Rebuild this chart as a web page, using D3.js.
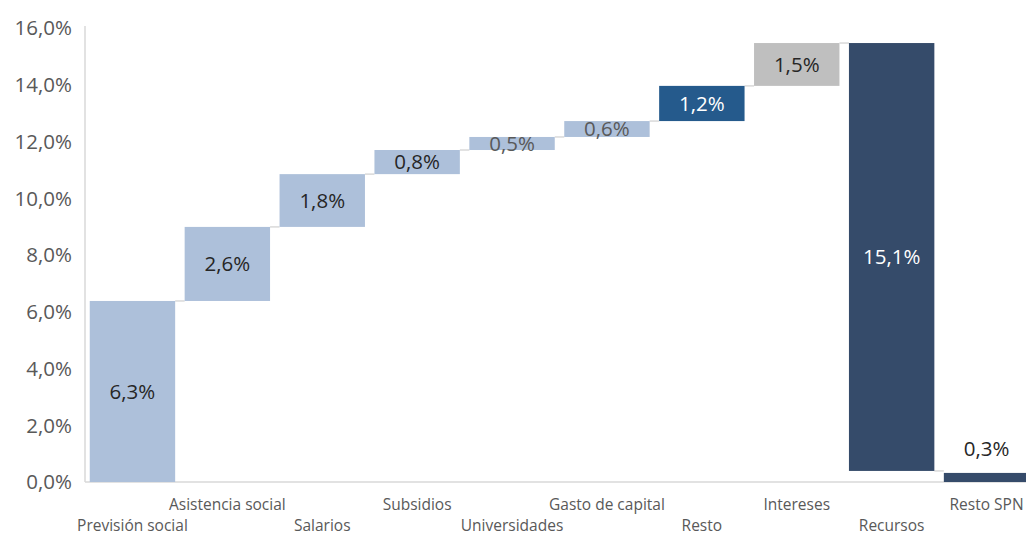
<!DOCTYPE html>
<html lang="es">
<head>
    <meta charset="UTF-8">
    <title>Cascada gasto</title>
    <script src="https://d3js.org/d3.v7.min.js"></script>
    <style>
        body { margin: 0; background: #fff; }
        text { font-family: "Open Sans", "Noto Sans", sans-serif; }
    </style>
</head>
<body>
    <svg id="chart" width="1026" height="536"></svg>
    <script>
        const categories = ["Previsión social", "Asistencia social", "Salarios", "Subsidios", "Universidades",
            "Gasto de capital", "Resto", "Intereses", "Recursos", "Resto SPN"];
        // bar sizes (labels are rounded)
        const values = [6.38, 2.61, 1.86, 0.85, 0.46, 0.56, 1.24, 1.51, -15.08, 0.32];
        const labels = ["6,3%", "2,6%", "1,8%", "0,8%", "0,5%", "0,6%", "1,2%", "1,5%", "15,1%", "0,3%"];
        const isTotal = [false, false, false, false, false, false, false, false, false, true];
        const yTicks = [0, 2, 4, 6, 8, 10, 12, 14, 16];

        const colors = ["#adc0da", "#adc0da", "#adc0da", "#adc0da", "#adc0da", "#adc0da", "#255a8c", "#bfbfbf", "#354b6a", "#354b6a"];
        const labelColors = ["#262626", "#262626", "#262626", "#262626", "#595959", "#595959", "#ffffff", "#262626", "#ffffff", "#262626"];

        const svg = d3.select("#chart");

        const x = d3.scaleBand()
            .domain(categories)
            .range([85, 1034])
            .paddingInner(0.1)
            .paddingOuter(0.05);

        const y = d3.scaleLinear()
            .domain([0, 16])
            .range([482, 28]);

        // running start / end of each bar
        let run = 0;
        const bars = categories.map((c, i) => {
            let start, end;
            if (isTotal[i]) { start = 0; end = values[i]; }
            else { start = run; end = run + values[i]; }
            run = end;
            return { name: c, start, end, i };
        });

        // axes
        svg.append("line")
            .attr("x1", 85).attr("x2", 1026)
            .attr("y1", y(0)).attr("y2", y(0))
            .attr("stroke", "#d9d9d9").attr("stroke-width", 1.5);
        svg.append("line")
            .attr("x1", 85).attr("x2", 85)
            .attr("y1", y(16) - 2).attr("y2", y(0))
            .attr("stroke", "#d9d9d9").attr("stroke-width", 1.5);

        svg.selectAll(".ytick")
            .data(yTicks)
            .enter().append("text")
            .attr("class", "ytick")
            .attr("x", 72)
            .attr("y", d => y(d))
            .attr("dy", "0.36em")
            .attr("text-anchor", "end")
            .attr("font-size", "20.5px")
            .attr("fill", "#595959")
            .text(d => d3.format(".1f")(d).replace(".", ",") + "%");

        // connectors
        svg.selectAll(".conn")
            .data(bars.slice(0, -1))
            .enter().append("line")
            .attr("class", "conn")
            .attr("x1", d => x(d.name) + x.bandwidth())
            .attr("x2", d => x(categories[d.i + 1]))
            .attr("y1", d => y(d.end))
            .attr("y2", d => y(d.end))
            .attr("stroke", "#d9d9d9")
            .attr("stroke-width", 1.5);

        // bars
        svg.selectAll(".bar")
            .data(bars)
            .enter().append("rect")
            .attr("class", "bar")
            .attr("x", d => x(d.name))
            .attr("width", x.bandwidth())
            .attr("y", d => y(Math.max(d.start, d.end)))
            .attr("height", d => Math.abs(y(d.start) - y(d.end)))
            .attr("fill", d => colors[d.i]);

        // data labels
        svg.selectAll(".lbl")
            .data(bars)
            .enter().append("text")
            .attr("class", "lbl")
            .attr("x", d => x(d.name) + x.bandwidth() / 2)
            .attr("y", d => {
                const top = y(Math.max(d.start, d.end));
                const h = Math.abs(y(d.start) - y(d.end));
                if (h < 10) return top - 24;
                return top + h / 2;
            })
            .attr("dy", "0.36em")
            .attr("text-anchor", "middle")
            .attr("font-size", "20.5px")
            .attr("fill", d => labelColors[d.i])
            .text(d => labels[d.i]);

        // category labels, staggered
        svg.selectAll(".cat")
            .data(categories)
            .enter().append("text")
            .attr("class", "cat")
            .attr("x", d => x(d) + x.bandwidth() / 2)
            .attr("y", (d, i) => i % 2 === 0 ? 531 : 510)
            .attr("text-anchor", "middle")
            .attr("font-size", "15.5px")
            .attr("fill", "#595959")
            .text(d => d);
    </script>
</body>
</html>
